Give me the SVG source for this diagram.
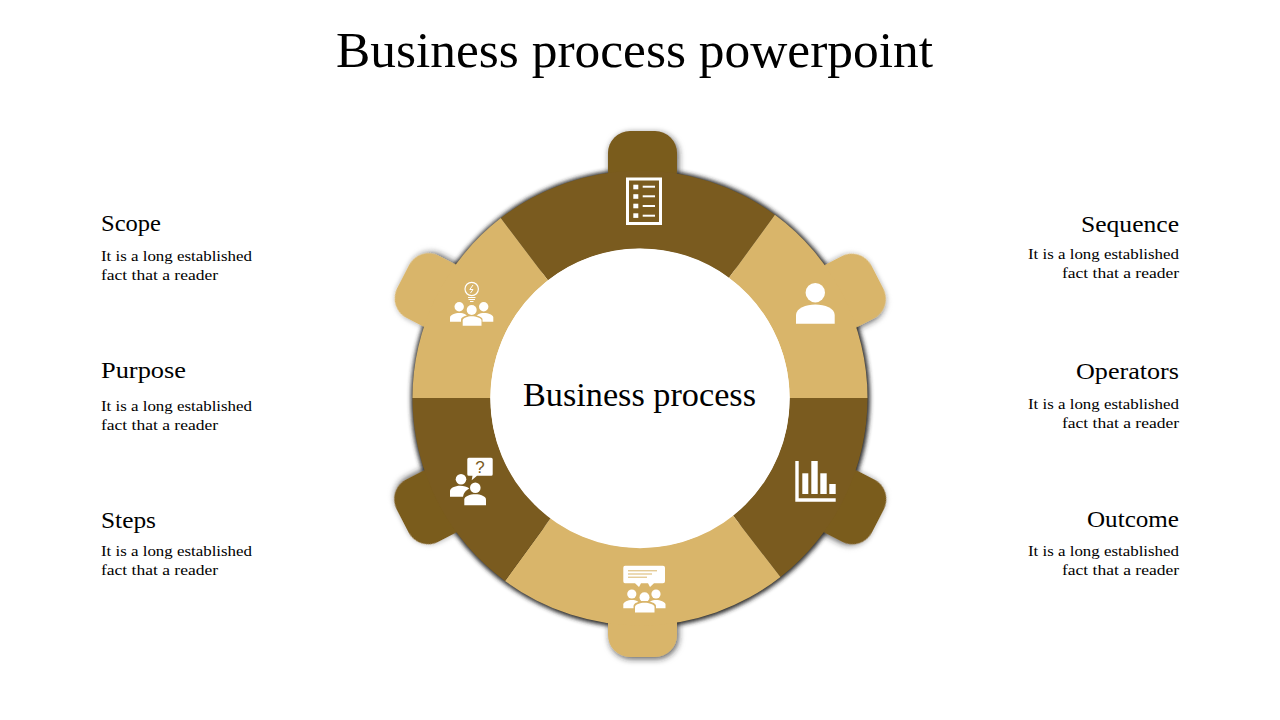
<svg xmlns="http://www.w3.org/2000/svg" width="1280" height="720" viewBox="0 0 1280 720">
<style>
text{font-family:"Liberation Serif","DejaVu Serif",serif;fill:#000}
.title{font-size:50px}
.center{font-size:33px}
.head{font-size:24px}
.body{font-size:15.5px}
.dark{fill:#7a5b1f}
.light{fill:#d9b56a}
.w{fill:#fff}
</style>
<defs>
<filter id="ringShadow" x="-10%" y="-10%" width="120%" height="120%"><feGaussianBlur stdDeviation="2.2"/></filter>
<filter id="tabShadow" x="-30%" y="-30%" width="160%" height="160%"><feDropShadow dx="1.5" dy="2" stdDeviation="3" flood-color="#222" flood-opacity="0.75"/></filter>
</defs>
<rect width="1280" height="720" fill="#fff"/>
<text class="title" x="336" y="67" textLength="597" lengthAdjust="spacingAndGlyphs">Business process powerpoint</text>
<g id="connectors"/>
<circle id="ring-shadow" cx="640.5" cy="398.5" r="195" fill="none" stroke="#2a2a2a" stroke-width="69" filter="url(#ringShadow)"/>

<g id="node-top">
<rect class="dark" x="608" y="131" width="69" height="62" rx="22" filter="url(#tabShadow)"/>
<path class="dark" d="M500.8 218.1A227.5 227.5 0 0 1 774.9 214.8L729 277.7A149.5 149.5 0 0 0 547.9 280.2Z"/>
<g class="w">
<path fill-rule="evenodd" d="M626 177.5H662V225H626ZM629 180.5V222H659V180.5Z"/>
<rect x="633.3" y="184.7" width="5" height="4.6"/><rect x="633.3" y="194.2" width="5" height="4.6"/><rect x="633.3" y="203.7" width="5" height="4.6"/><rect x="633.3" y="213.3" width="5" height="4.6"/>
<rect x="642.7" y="185.7" width="12.3" height="2"/><rect x="642.7" y="195.3" width="12.3" height="2"/><rect x="642.7" y="205" width="12.3" height="2"/><rect x="642.7" y="214.7" width="12.3" height="2"/>
</g>
</g>

<g id="node-upper-right">
<rect class="light" x="-35" y="-41" width="70" height="62" rx="22" transform="translate(841 296) rotate(62.7)" filter="url(#tabShadow)"/>
<path class="light" d="M774.9 214.8A227.5 227.5 0 0 1 867.5 398H789.5A149.5 149.5 0 0 0 729 277.7Z"/>
<g class="w">
<circle cx="815.3" cy="292.7" r="9.7"/>
<path d="M796 323.7V315C796 308.5 806 304.5 815.3 304.5C825 304.5 834.7 308.5 834.7 315V323.7Z"/>
</g>
</g>

<g id="node-lower-right">
<rect class="dark" x="-35" y="-41" width="70" height="62" rx="22" transform="translate(841.5 502) rotate(117.3)" filter="url(#tabShadow)"/>
<path class="dark" d="M867.5 398A227.5 227.5 0 0 1 780.5 577L732.8 515.3A149.5 149.5 0 0 0 789.5 398Z"/>
<g class="w">
<path d="M795.3 461H798.7V498.3H835.7V501.7H795.3Z"/>
<rect x="802.3" y="473.3" width="6" height="20.7"/><rect x="811.3" y="461" width="6.4" height="33"/><rect x="820.3" y="473.3" width="6.4" height="20.7"/><rect x="829.3" y="484" width="6.4" height="10"/>
</g>
</g>

<g id="node-bottom">
<rect class="light" x="608" y="597" width="69" height="60" rx="22" filter="url(#tabShadow)"/>
<path class="light" d="M780.5 577A227.5 227.5 0 0 1 505 581L550.8 518A149.5 149.5 0 0 0 732.8 515.3Z"/>
<g class="w">
<path d="M625 565.7H663Q665 565.7 665 567.7V581.3Q665 583.3 663 583.3H654L650 587L648 583.3H641L639 587L635 583.3H625Q623.3 583.3 623.3 581.3V567.7Q623.3 565.7 625 565.7Z"/>
<circle cx="631.8" cy="594" r="4.6"/><circle cx="656" cy="594" r="4.6"/><circle cx="644.5" cy="597.3" r="5"/>
<path d="M623.3 608.3V604.5C623.3 602 628 600 632 600C636 600 640 602 640 604.5V608.3Z"/>
<path d="M648 608.3V604.5C648 602 652 600 656 600C660 600 665.5 602 665.5 604.5V608.3Z"/>
<path class="light" d="M633.5 613.5V606C633.5 603 639 601 644.5 601C650 601 656 603 656 606V613.5Z"/>
<path d="M635 612.5V607C635 604.5 640 602.8 644.5 602.8C649 602.8 654.5 604.5 654.5 607V612.5Z"/>
</g>
<path d="M628 570.8H657M628 574H652M628 577.2H647" stroke="#d9b56a" stroke-width="1" fill="none"/>
</g>

<g id="node-lower-left">
<rect class="dark" x="-35" y="-41" width="70" height="62" rx="22" transform="translate(439 502) rotate(-117.3)" filter="url(#tabShadow)"/>
<path class="dark" d="M505 581A227.5 227.5 0 0 1 412.5 398H490.5A149.5 149.5 0 0 0 550.8 518Z"/>
<g class="w">
<path d="M468.8 457.7H491.2Q492.7 457.7 492.7 459.2V474.2Q492.7 475.7 491.2 475.7H477L471.7 480.2L472.5 475.7H468.8Q467.3 475.7 467.3 474.2V459.2Q467.3 457.7 468.8 457.7Z"/>
<circle cx="461" cy="479.3" r="5.3"/><circle cx="475.3" cy="487.7" r="5.3"/>
<path d="M450 496.7V491C450 488 455 485.7 460 485.7C464 485.7 467 486.7 469.3 488.5C466 490 463.5 493 463 496.7Z"/>
<path d="M464.3 505.3V499.5C464.3 496.3 470 494.3 475.3 494.3C480.5 494.3 486 496.3 486 499.5V505.3Z"/>
</g>
<text x="480" y="472.5" text-anchor="middle" style="font-family:'Liberation Sans',sans-serif;font-size:17px;fill:#7a5b1f">?</text>
</g>

<g id="node-upper-left">
<rect class="light" x="-35" y="-41" width="70" height="62" rx="22" transform="translate(439.5 295.5) rotate(-62.7)" filter="url(#tabShadow)"/>
<path class="light" d="M412.5 398A227.5 227.5 0 0 1 500.8 218.1L547.9 280.2A149.5 149.5 0 0 0 490.5 398Z"/>
<circle cx="471.7" cy="289" r="6.7" fill="none" stroke="#fff" stroke-width="1.2"/>
<path d="M473 285L469.8 289.5H473L470.5 293" fill="none" stroke="#fff" stroke-width="1"/>
<path d="M468 297.5H475.5M468.5 299.5H475M470 301.5H473.5" fill="none" stroke="#fff" stroke-width="1"/>
<g class="w">
<circle cx="459.2" cy="306.7" r="4.7"/><circle cx="483.7" cy="306.7" r="4.7"/><circle cx="471.7" cy="310" r="5"/>
<path d="M450 321.7V317.5C450 315 455 313 459.5 313C464 313 467.5 315 467.5 317.5V321.7Z"/>
<path d="M476 321.7V317.5C476 315 479.5 313 484 313C488.5 313 493.3 315 493.3 317.5V321.7Z"/>
<path class="light" d="M461 326.5V319.5C461 317 466.5 315 471.7 315C477 315 482.5 317 482.5 319.5V326.5Z"/>
<path d="M462.7 325.7V320.5C462.7 318 467.5 316.3 471.7 316.3C476 316.3 481.5 318 481.5 320.5V325.7Z"/>
</g>
</g>

<g id="node-center">
<circle cx="640" cy="398.5" r="149.7" fill="#fff"/>
<text class="center" x="523" y="406" textLength="233" lengthAdjust="spacingAndGlyphs">Business process</text>
</g>

<g id="label-scope">
<text class="head" x="101" y="231" textLength="60" lengthAdjust="spacingAndGlyphs">Scope</text>
<text class="body" x="101" y="261" textLength="151" lengthAdjust="spacingAndGlyphs">It is a long established</text>
<text class="body" x="101" y="280" textLength="117" lengthAdjust="spacingAndGlyphs">fact that a reader</text>
</g>
<g id="label-purpose">
<text class="head" x="101" y="378" textLength="85" lengthAdjust="spacingAndGlyphs">Purpose</text>
<text class="body" x="101" y="411" textLength="151" lengthAdjust="spacingAndGlyphs">It is a long established</text>
<text class="body" x="101" y="430" textLength="117" lengthAdjust="spacingAndGlyphs">fact that a reader</text>
</g>
<g id="label-steps">
<text class="head" x="101" y="528" textLength="55" lengthAdjust="spacingAndGlyphs">Steps</text>
<text class="body" x="101" y="556" textLength="151" lengthAdjust="spacingAndGlyphs">It is a long established</text>
<text class="body" x="101" y="575" textLength="117" lengthAdjust="spacingAndGlyphs">fact that a reader</text>
</g>
<g id="label-sequence">
<text class="head" x="1081" y="232" textLength="98" lengthAdjust="spacingAndGlyphs">Sequence</text>
<text class="body" x="1028" y="259" textLength="151" lengthAdjust="spacingAndGlyphs">It is a long established</text>
<text class="body" x="1062" y="278" textLength="117" lengthAdjust="spacingAndGlyphs">fact that a reader</text>
</g>
<g id="label-operators">
<text class="head" x="1076" y="379" textLength="103" lengthAdjust="spacingAndGlyphs">Operators</text>
<text class="body" x="1028" y="409" textLength="151" lengthAdjust="spacingAndGlyphs">It is a long established</text>
<text class="body" x="1062" y="428" textLength="117" lengthAdjust="spacingAndGlyphs">fact that a reader</text>
</g>
<g id="label-outcome">
<text class="head" x="1087" y="527" textLength="92" lengthAdjust="spacingAndGlyphs">Outcome</text>
<text class="body" x="1028" y="556" textLength="151" lengthAdjust="spacingAndGlyphs">It is a long established</text>
<text class="body" x="1062" y="575" textLength="117" lengthAdjust="spacingAndGlyphs">fact that a reader</text>
</g>
</svg>
